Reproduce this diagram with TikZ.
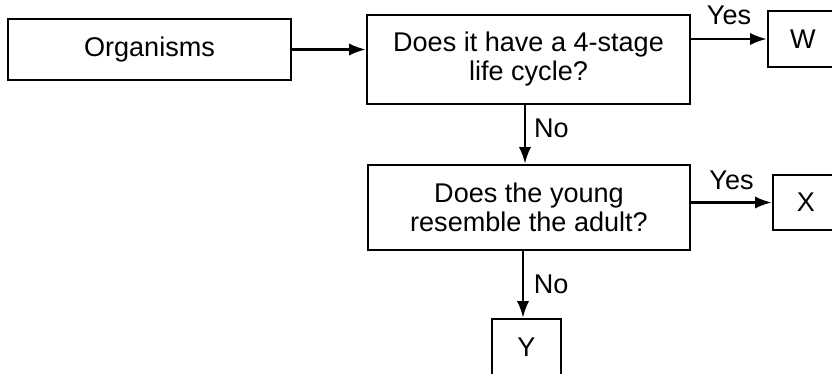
\documentclass[tikz,border=0pt]{standalone}
\usepackage{fontspec}
\setmainfont{Liberation Sans}
\usetikzlibrary{positioning,arrows.meta}

\begin{document}
\begin{tikzpicture}[x=0.02cm,y=-0.02cm,
  font=\fontsize{15.4}{16.5}\selectfont,
  box/.style={draw,line width=1.4pt,inner sep=0pt,align=center},
  arr/.style={line width=1.4pt,-{Latex[length=9.5pt,width=7pt]}},
  lbl/.style={inner sep=0pt}]
\useasboundingbox (0,0) rectangle (832,374);
\clip (0,0) rectangle (832,374);
\node[box,minimum width=5.66cm,minimum height=1.22cm] (organisms) at (149.5,49.5) {Organisms};
\node[box,minimum width=6.46cm,minimum height=1.78cm] (stage) at (528.5,59.5) {Does it have a 4-stage\\life cycle?};
\node[box,minimum width=6.44cm,minimum height=1.70cm] (young) at (529,207.5) {Does the young\\resemble the adult?};
\node[box,minimum width=1.40cm,minimum height=1.12cm] (W) at (803,39) {W};
\node[box,minimum width=1.32cm,minimum height=1.10cm] (X) at (806,202.5) {X};
\node[box,minimum width=1.38cm,minimum height=1.12cm] (Y) at (526.5,347) {Y};
\draw[arr] (organisms) -- (stage.west |- organisms);
\draw[arr] (stage.east |- W) -- (W) node [lbl, midway, above=7.4pt] {Yes};
\draw[arr] (young.east |- X) -- (X) node [lbl, midway, above=6.3pt] {Yes};
\draw[arr] (stage.south -| 525,0) -- (young.north -| 525,0) node [lbl, pos=0.4, right=4.5pt] {No};
\draw[arr] (young.south -| 523,0) -- (Y.north -| 523,0) node [lbl, midway, right=5.5pt] {No};
\end{tikzpicture}
\end{document}
